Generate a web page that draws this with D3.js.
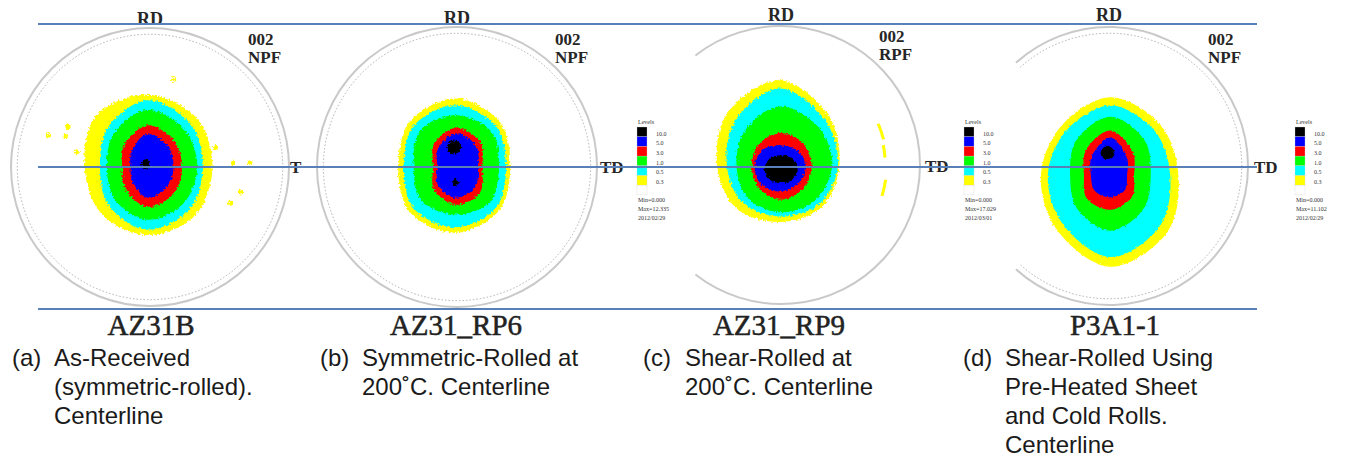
<!DOCTYPE html>
<html>
<head>
<meta charset="utf-8">
<script src="https://cdn.jsdelivr.net/npm/d3@7/dist/d3.min.js"></script>
<style>
    body { margin: 0; background: #fff; }
    svg { display: block; }
</style>
</head>
<body>
<div id="chart"></div>
<script>
// contour bands, lowest level first
var bandColors = ["#ffff00", "#00ffff", "#00ff00", "#ff0000", "#0000ff", "#000000"];
// legend boxes top to bottom
var legendColors = ["#000000", "#0000ff", "#ff0000", "#00ff00", "#00ffff", "#ffff00", "#ffffff"];
var levelLabels = ["10.0", "5.0", "3.0", "1.0", "0.5", "0.3"];

var samples = ["AZ31B", "AZ31_RP6", "AZ31_RP9", "P3A1-1"];
var figTypes = [["002", "NPF"], ["002", "NPF"], ["002", "RPF"], ["002", "NPF"]];
var sideLabels = ["T", "TD", "TD", "TD"];
var captionTags = ["(a)", "(b)", "(c)", "(d)"];
var captions = [
    ["As-Received", "(symmetric-rolled).", "Centerline"],
    ["Symmetric-Rolled at", "200\u02DAC. Centerline"],
    ["Shear-Rolled at", "200\u02DAC. Centerline"],
    ["Shear-Rolled Using", "Pre-Heated Sheet", "and Cold Rolls.", "Centerline"]
];
var legendMin = [null, "Min=0.000", "Min=0.000", "Min=0.000"];
var legendMax = [null, "Max=12.335", "Max=17.029", "Max=11.102"];
var legendDate = [null, "2012/02/29", "2012/03/01", "2012/02/29"];

// contour outlines in pole figure units (1 = circle edge)
// centre offset, then radius towards E, NE, N, NW, W, SW, S, SE
var contoursA = [
    {band: 0, cx: -0.02, cy: 0, r: [.47, .50, .52, .52, .45, .47, .49, .49]},
    {band: 1, cx: -0.02, cy: 0, r: [.40, .44, .48, .40, .34, .39, .45, .43]},
    {band: 2, cx: -0.02, cy: 0, r: [.36, .38, .41, .34, .29, .33, .38, .37]},
    {band: 3, cx: -0.02, cy: 0, r: [.25, .27, .30, .23, .18, .22, .29, .27]},
    {band: 4, cx: -0.02, cy: 0, r: [.19, .21, .24, .16, .12, .15, .22, .20]},
    {band: 5, cx: -0.03, cy: 0.02, r: [.03, .03, .04, .03, .03, .03, .04, .03]}
];
var contoursB = [
    {band: 0, cx: -0.01, cy: 0, r: [.39, .45, .49, .46, .41, .46, .47, .44]},
    {band: 1, cx: -0.01, cy: 0, r: [.36, .41, .44, .42, .37, .42, .43, .41]},
    {band: 2, cx: -0.01, cy: 0, r: [.31, .36, .37, .36, .30, .34, .34, .35]},
    {band: 3, cx: -0.01, cy: 0, r: [.19, .25, .28, .22, .16, .22, .27, .25]},
    {band: 4, cx: -0.01, cy: 0, r: [.16, .21, .24, .18, .13, .18, .22, .20]},
    {band: 5, cx: -0.02, cy: 0.14, r: [.05, .05, .05, .05, .05, .05, .045, .05]},
    {band: 5, cx: -0.01, cy: -0.11, r: [.03, .02, .03, .02, .03, .02, .03, .02]}
];
var contoursC = [
    {band: 0, cx: -0.01, cy: 0, r: [.43, .50, .61, .53, .45, .44, .41, .43]},
    {band: 1, cx: -0.01, cy: 0, r: [.42, .46, .55, .45, .38, .38, .37, .40]},
    {band: 2, cx: -0.01, cy: 0, r: [.38, .39, .42, .35, .31, .33, .34, .36]},
    {band: 3, cx: -0.01, cy: 0, r: [.23, .23, .23, .21, .20, .22, .25, .24]},
    {band: 4, cx: -0.01, cy: 0, r: [.19, .16, .14, .16, .18, .19, .19, .19]},
    {band: 5, cx: 0, cy: -0.03, r: [.12, .11, .10, .11, .12, .11, .10, .11]}
];
var contoursD = [
    {band: 0, cx: 0.01, cy: -0.065, r: [.49, .51, .56, .50, .50, .55, .66, .58]},
    {band: 1, cx: 0.01, cy: -0.065, r: [.43, .45, .50, .45, .45, .49, .59, .51]},
    {band: 2, cx: 0.01, cy: -0.065, r: [.29, .35, .42, .35, .29, .34, .40, .34]},
    {band: 3, cx: 0.01, cy: -0.065, r: [.17, .23, .32, .25, .19, .24, .25, .22]},
    {band: 4, cx: 0.01, cy: -0.065, r: [.12, .17, .27, .19, .14, .16, .16, .15]},
    {band: 5, cx: -0.01, cy: 0.09, r: [.05, .05, .055, .05, .05, .045, .04, .045]}
];
var contours = [contoursA, contoursB, contoursC, contoursD];

// isolated yellow specks in (a), pole figure units
var specksA = [[-0.73, 0.23], [-0.59, 0.29], [-0.61, 0.22], [-0.53, 0.11], [0.47, 0.14],
    [0.60, 0.03], [0.72, 0.03], [0.65, -0.18], [0.58, -0.26], [0.17, 0.63]];
// yellow arc fragments in (c): degrees above TD, radius
var fragmentsC = [[14, 23, 0.76], [4, 11, 0.75], [-17, -8, 0.76]];

var width = 1347, height = 457;

var panels = [
    {x: 150, y: 167, R: 139, arc: null, dotted: true, rdY: 25, fig: [248, 45], side: [290, 173], name: 151, tag: 12, legend: null, rough: 5},
    {x: 457, y: 167, R: 140, arc: null, dotted: true, rdY: 24, fig: [555, 45], side: [600, 173], name: 456, tag: 320, legend: 637, rough: 5},
    {x: 781, y: 165, R: 139, arc: 128, dotted: false, rdY: 21, fig: [879, 42], side: [925, 172], name: 779, tag: 643, legend: 964, rough: 5},
    {x: 1109, y: 166, R: 139, arc: 132, dotted: true, rdY: 21, fig: [1208, 45], side: [1254, 173], name: 1115, tag: 963, legend: 1295, rough: 3}
];

var svg = d3.select("#chart")
    .append("svg")
    .attr("width", width)
    .attr("height", height);

var defs = svg.append("defs");
[3, 5].forEach(function (s) {
    var f = defs.append("filter")
        .attr("id", "rough" + s)
        .attr("x", "-10%").attr("y", "-10%")
        .attr("width", "120%").attr("height", "120%");
    f.append("feTurbulence")
        .attr("type", "fractalNoise")
        .attr("baseFrequency", 0.45)
        .attr("numOctaves", 2)
        .attr("seed", 4)
        .attr("result", "noise");
    f.append("feDisplacementMap")
        .attr("in", "SourceGraphic")
        .attr("in2", "noise")
        .attr("scale", s)
        .attr("xChannelSelector", "R")
        .attr("yChannelSelector", "G");
});

var serif = "'Liberation Serif', 'Times New Roman', serif";
var sans = "'Liberation Sans', Arial, sans-serif";
var angles = d3.range(8).map(function (k) { return k * Math.PI / 4; });

function ring(p, rr) {
    var path = d3.path();
    var a = p.arc * Math.PI / 180;
    path.moveTo(p.x + rr * Math.cos(-a), p.y + rr * Math.sin(-a));
    path.arc(p.x, p.y, rr, -a, a, false);
    return path.toString();
}

panels.forEach(function (p, i) {
    var x = d3.scaleLinear().domain([-1, 1]).range([p.x - p.R, p.x + p.R]);
    var y = d3.scaleLinear().domain([-1, 1]).range([p.y + p.R, p.y - p.R]);
    var line = d3.line()
        .x(function (d) { return x(d[0]); })
        .y(function (d) { return y(d[1]); })
        .curve(d3.curveCatmullRomClosed.alpha(0.5));

    var g = svg.append("g");

    // circle outline
    if (p.arc === null) {
        g.append("circle")
            .attr("cx", p.x).attr("cy", p.y).attr("r", p.R)
            .attr("fill", "none").attr("stroke", "#c9c9c9").attr("stroke-width", 2);
    } else {
        g.append("path")
            .attr("d", ring(p, p.R))
            .attr("fill", "none").attr("stroke", "#c9c9c9").attr("stroke-width", 2);
    }
    if (p.dotted) {
        var inner = p.arc === null
            ? g.append("circle").attr("cx", p.x).attr("cy", p.y).attr("r", p.R * 0.955)
            : g.append("path").attr("d", ring(p, p.R * 0.955));
        inner.attr("fill", "none")
            .attr("stroke", "#b0b0b0")
            .attr("stroke-width", 1)
            .attr("stroke-dasharray", "1.5,2");
    }

    var blobs = g.append("g").attr("filter", "url(#rough" + p.rough + ")");
    blobs.selectAll("path")
        .data(contours[i])
        .enter()
        .append("path")
        .attr("d", function (c) {
            return line(c.r.map(function (r, k) {
                return [c.cx + r * Math.cos(angles[k]), c.cy + r * Math.sin(angles[k])];
            }));
        })
        .attr("fill", function (c) { return bandColors[c.band]; });

    if (i === 0) {
        blobs.selectAll("circle")
            .data(specksA)
            .enter()
            .append("circle")
            .attr("cx", function (d) { return x(d[0]); })
            .attr("cy", function (d) { return y(d[1]); })
            .attr("r", 2.5)
            .attr("fill", bandColors[0]);
    }
    if (i === 2) {
        g.selectAll(".frag")
            .data(fragmentsC)
            .enter()
            .append("path")
            .attr("class", "frag")
            .attr("d", function (d) {
                var path = d3.path(), rr = d[2] * p.R;
                var a0 = -d[1] * Math.PI / 180, a1 = -d[0] * Math.PI / 180;
                path.moveTo(p.x + rr * Math.cos(a0), p.y + rr * Math.sin(a0));
                path.arc(p.x, p.y, rr, a0, a1, false);
                return path.toString();
            })
            .attr("fill", "none")
            .attr("stroke", bandColors[0])
            .attr("stroke-width", 3);
    }

    // labels on the pole figure
    g.append("text")
        .attr("x", p.x).attr("y", p.rdY)
        .attr("text-anchor", "middle")
        .style("font-family", serif).style("font-size", "18px").style("font-weight", "bold")
        .attr("fill", "#262626")
        .text("RD");
    g.selectAll(".fig")
        .data(figTypes[i])
        .enter()
        .append("text")
        .attr("x", p.fig[0])
        .attr("y", function (d, k) { return p.fig[1] + k * 18; })
        .style("font-family", serif).style("font-size", "17px").style("font-weight", "bold")
        .attr("fill", "#262626")
        .text(function (d) { return d; });
    g.append("text")
        .attr("x", p.side[0]).attr("y", p.side[1])
        .style("font-family", serif).style("font-size", "17px").style("font-weight", "bold")
        .attr("fill", "#262626")
        .text(sideLabels[i]);

    // sample name and caption
    g.append("text")
        .attr("x", p.name).attr("y", 335)
        .attr("text-anchor", "middle")
        .style("font-family", serif).style("font-size", "29px")
        .attr("fill", "#222")
        .attr("stroke", "#222")
        .attr("stroke-width", 0.5)
        .text(samples[i]);
    g.append("text")
        .attr("x", p.tag).attr("y", 366)
        .style("font-family", sans).style("font-size", "24px")
        .attr("fill", "#1a1a1a")
        .text(captionTags[i]);
    g.selectAll(".cap")
        .data(captions[i])
        .enter()
        .append("text")
        .attr("x", p.tag + 42)
        .attr("y", function (d, k) { return 366 + k * 29; })
        .style("font-family", sans).style("font-size", "24px")
        .attr("fill", "#1a1a1a")
        .text(function (d) { return d; });

    // level legend
    if (p.legend !== null) {
        var lg = svg.append("g").attr("transform", "translate(" + p.legend + ",0)");
        var boxH = 9.7, top = 127;
        lg.append("text")
            .attr("x", 1).attr("y", 124)
            .style("font-family", serif).style("font-size", "6px")
            .attr("fill", "#333")
            .text("Levels");
        lg.selectAll("rect")
            .data(legendColors)
            .enter()
            .append("rect")
            .attr("x", 0)
            .attr("y", function (d, k) { return top + k * boxH; })
            .attr("width", 10)
            .attr("height", boxH)
            .attr("fill", function (d) { return d; })
            .attr("stroke", "#ccc")
            .attr("stroke-width", 0.3);
        lg.selectAll(".lvl")
            .data(levelLabels)
            .enter()
            .append("text")
            .attr("x", 19)
            .attr("y", function (d, k) { return top + k * boxH + 8.5; })
            .style("font-family", serif).style("font-size", "6px")
            .attr("fill", "#333")
            .text(function (d) { return d; });
        lg.selectAll(".mm")
            .data([legendMin[i], legendMax[i], legendDate[i]])
            .enter()
            .append("text")
            .attr("x", 1)
            .attr("y", function (d, k) { return 202 + k * 9; })
            .style("font-family", serif).style("font-size", "6px")
            .attr("fill", "#333")
            .text(function (d) { return d; });
    }
});

// reference lines
var lineYs = [24, 167, 309];
svg.selectAll(".ref")
    .data(lineYs)
    .enter()
    .append("line")
    .attr("class", "ref")
    .attr("x1", 38).attr("x2", 1257)
    .attr("y1", function (d) { return d; })
    .attr("y2", function (d) { return d; })
    .attr("stroke", "#5a80b8")
    .attr("stroke-width", 2);
</script>
</body>
</html>
